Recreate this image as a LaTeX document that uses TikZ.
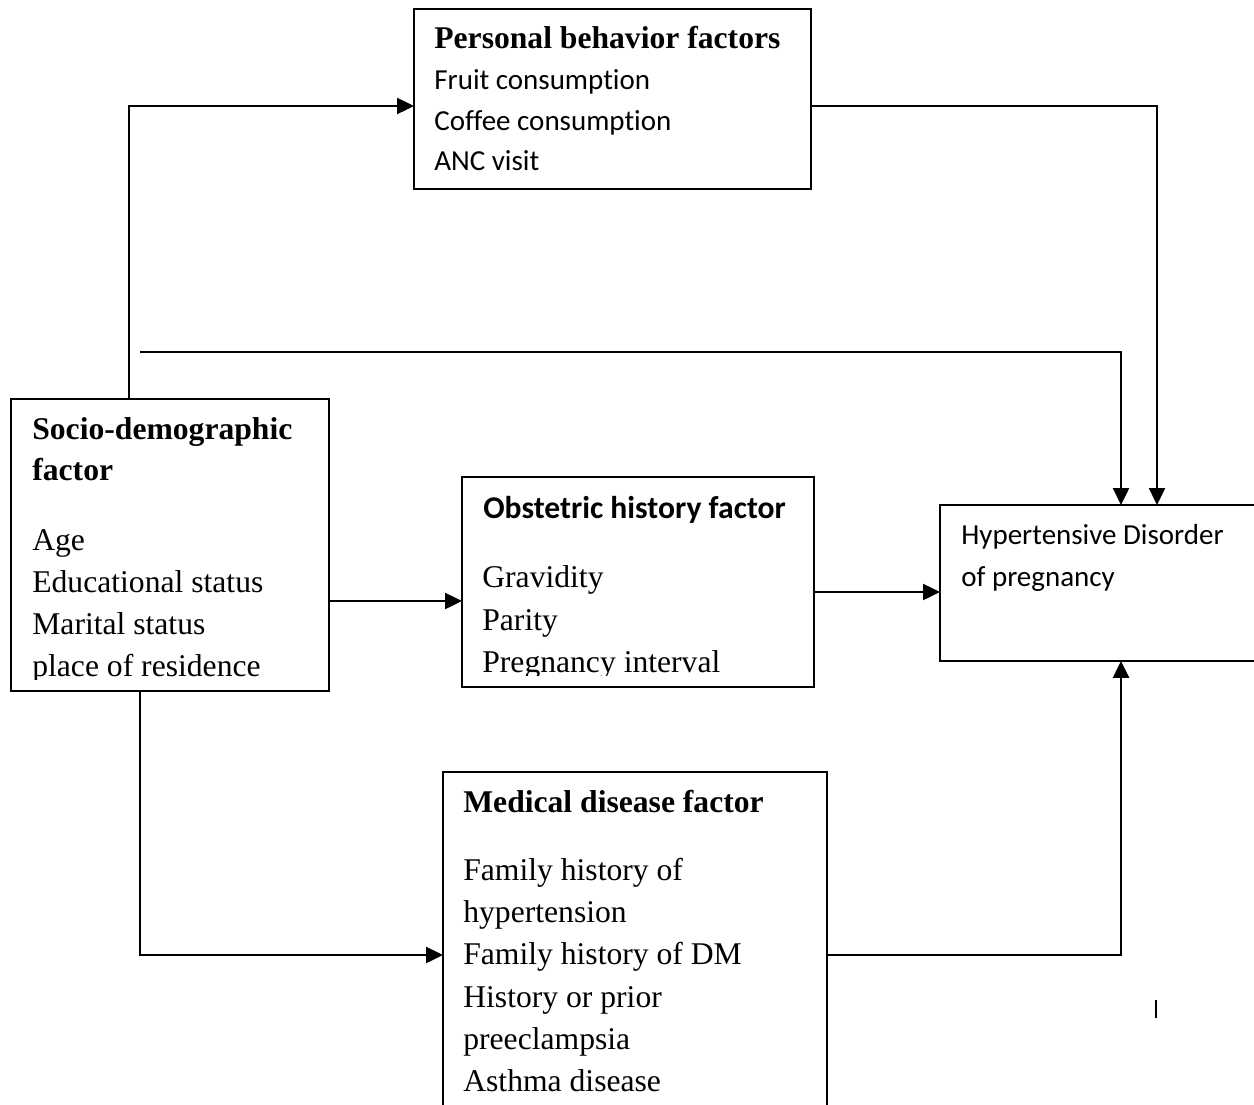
\documentclass[tikz,border=0pt]{standalone}
\usepackage{fontspec}
\setmainfont{Liberation Serif}
\newfontfamily\calfont[Ligatures={NoCommon}]{Carlito}
\usetikzlibrary{arrows.meta}
\begin{document}
\begin{tikzpicture}[x=0.02cm,y=-0.02cm,
  box/.style={draw,line width=1.3pt,anchor=north west,inner sep=0pt,outer sep=0pt},
  tms/.style={anchor=base west,inner sep=0pt,font=\fontsize{18}{21}\selectfont},
  tmsb/.style={tms,font=\fontsize{18}{21}\selectfont\bfseries},
  cal/.style={anchor=base west,inner sep=0pt,font=\calfont\fontsize{16.5}{20}\selectfont},
  calb/.style={cal,font=\calfont\fontsize{18}{21}\selectfont\bfseries},
  conn/.style={line width=1.4pt},
  arr/.style={conn,-{Triangle[length=3.4mm,width=3.2mm]}}]
\useasboundingbox (0,0) rectangle (1254,1105);
\clip (0,0) rectangle (1254,1105);
\fill[white] (0,0) rectangle (1254,1105);
% boxes
\node[box,minimum width=7.94cm,minimum height=3.6cm] (pers) at (414,9) {};
\node[box,minimum width=6.36cm,minimum height=5.84cm] (socio) at (11,399) {};
\node[box,minimum width=7.04cm,minimum height=4.2cm] (obst) at (462,477) {};
\node[box,minimum width=6.44cm,minimum height=3.12cm] (hyp) at (940,505) {};
\node[box,minimum width=7.68cm,minimum height=6.86cm] (med) at (443,772) {};
% personal text
\node[tmsb] (pt0) at (434,49) {Personal behavior factors};
\node[cal] (pt1) at (434,90) {Fruit consumption};
\node[cal] (pt2) at (434,131) {Coffee consumption};
\node[cal] (pt3) at (434,171) {ANC visit};
% socio text
\node[tmsb] (st0) at (32,439) {Socio-demographic};
\node[tmsb] (st1) at (32,480) {factor};
\node[tms] (st2) at (32,550) {Age};
\node[tms] (st3) at (32,592) {Educational status};
\node[tms] (st4) at (32,634) {Marital status};
\begin{scope}
\clip (11,600) rectangle (329,679);
\node[tms] (st5) at (32,676) {place of residence};
\end{scope}
% obstetric text
\node[calb] (ot0) at (483,518) {Obstetric history factor};
\node[tms] (ot1) at (482,587) {Gravidity};
\node[tms] (ot2) at (482,630) {Parity};
\begin{scope}
\clip (462,640) rectangle (814,675);
\node[tms] (ot3) at (482,672) {Pregnancy interval};
\end{scope}
% hypertensive text
\node[cal] (ht0) at (961,544) {Hypertensive Disorder};
\node[cal] (ht1) at (961,586) {of pregnancy};
% medical text
\node[tmsb] (mt0) at (463,812) {Medical disease factor};
\node[tms] (mt1) at (463,880) {Family history of};
\node[tms] (mt2) at (463,922) {hypertension};
\node[tms] (mt3) at (463,964) {Family history of DM};
\node[tms] (mt4) at (463,1007) {History or prior};
\node[tms] (mt5) at (463,1049) {preeclampsia};
\node[tms] (mt6) at (463,1091) {Asthma disease};
% connector coordinates
\coordinate (j1) at (129,106);
\coordinate (t0) at (140,352);
\coordinate (t1) at (1121,352);
\coordinate (p1) at (1157,106);
\coordinate (so) at (0,601);
\coordinate (oh) at (0,592);
\coordinate (m1) at (140,955);
\coordinate (m2) at (1121,955);
\coordinate (c0) at (1156,1000);
\coordinate (c1) at (1156,1018);
% connectors
\draw[arr] (socio.north -| j1) -- (j1) -- (j1 -| pers.west);
\draw[arr] (t0) -- (t1) -- (t1 |- hyp.north);
\draw[arr] (pers.east |- p1) -- (p1) -- (p1 |- hyp.north);
\draw[arr] (socio.east |- so) -- (obst.west |- so);
\draw[arr] (obst.east |- oh) -- (hyp.west |- oh);
\draw[arr] (socio.south -| m1) -- (m1) -- (m1 -| med.west);
\draw[arr] (med.east |- m2) -- (m2) -- (m2 |- hyp.south);
\draw[conn] (c0) -- (c1);
\end{tikzpicture}
\end{document}
